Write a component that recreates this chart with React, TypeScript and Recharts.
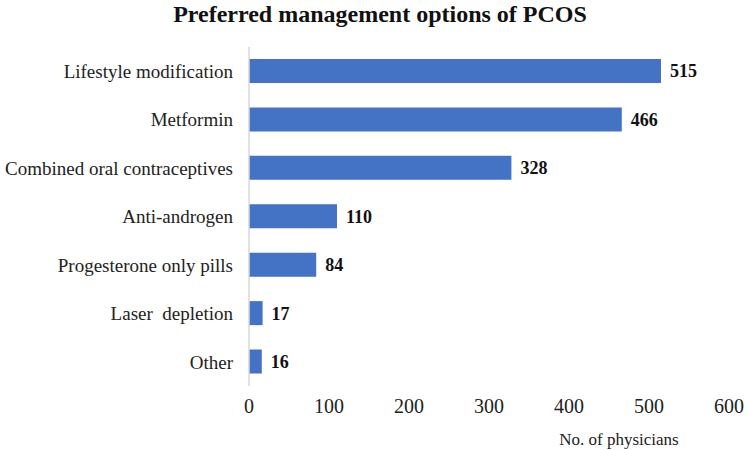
import {Bar, BarChart, LabelList, Label, XAxis, YAxis} from 'recharts'

const options = [
    'Lifestyle modification',
    'Metformin',
    'Combined oral contraceptives',
    'Anti-androgen',
    'Progesterone only pills',
    'Laser\u00a0 depletion',
    'Other',
]
const physicians = [515, 466, 328, 110, 84, 17, 16]
const xTicks = [0, 100, 200, 300, 400, 500, 600]

const data = options.map((name, i) => ({name, physicians: physicians[i]}))

const font = '"Liberation Serif", "Times New Roman", serif'

const App = () => {
    return (
        <div style={{position: 'absolute', left: 0, top: 0, width: 750, height: 450, background: '#fff', fontFamily: font}}>
            <style>{`.chart text { font-family: "Liberation Serif", serif !important; }`}</style>
            <div style={{position: 'absolute', left: 5, top: 1, width: 750, textAlign: 'center', fontSize: 24, fontWeight: 'bold', color: '#111'}}>
                Preferred management options of PCOS
            </div>
            <BarChart
                className='chart'
                width={750}
                height={450}
                data={data}
                layout='vertical'
                margin={{top: 47, right: 21, bottom: 0, left: 0}}
            >
                <XAxis
                    type='number'
                    domain={[0, 600]}
                    ticks={xTicks}
                    axisLine={false}
                    tickLine={false}
                    tickSize={0}
                    tickMargin={13}
                    height={64}
                    tick={{fill: '#222', fontSize: 20}}
                >
                    <Label value='No. of physicians' position='insideBottom' offset={5} dx={130} fill='#222' fontSize={17} />
                </XAxis>
                <YAxis
                    type='category'
                    dataKey='name'
                    width={249}
                    axisLine={{stroke: '#d9d9d9', strokeWidth: 1.5}}
                    tickLine={false}
                    tickSize={0}
                    tickMargin={16}
                    interval={0}
                    tick={{fill: '#222', fontSize: 19}}
                />
                <Bar dataKey='physicians' fill='#4472C4' barSize={24} isAnimationActive={false}>
                    <LabelList dataKey='physicians' position='right' offset={9} fill='#111' fontSize={18} fontWeight='bold' />
                </Bar>
            </BarChart>
        </div>
    )
}

export default App
